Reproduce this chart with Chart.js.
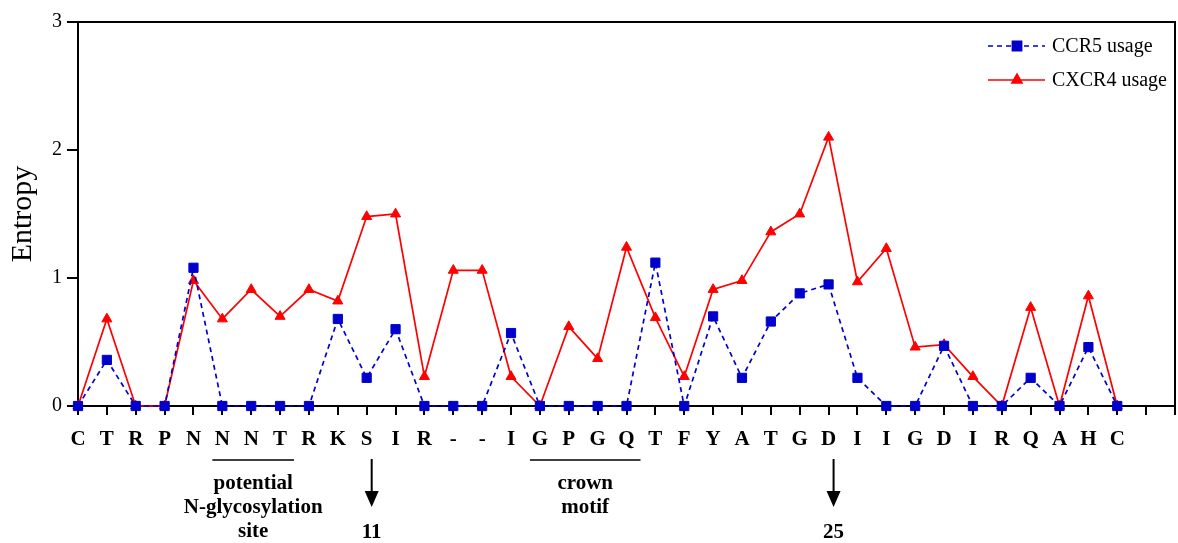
<!DOCTYPE html>
<html><head><meta charset="utf-8">
<script src="https://cdn.jsdelivr.net/npm/chart.js@4.4.0/dist/chart.umd.min.js"></script>
<style>html,body{margin:0;padding:0;background:#fff}#wrap{width:1178px;height:543px;position:relative}</style>
</head><body><div id="wrap"><canvas id="c" width="1178" height="543"></canvas></div>
<script>
const residues = ['C','T','R','P','N','N','N','T','R','K','S','I','R','-','-','I','G','P','G','Q','T','F','Y','A','T','G','D','I','I','G','D','I','R','Q','A','H','C','',''];
const ccr5Label = 'CCR5 usage';
const cxcr4Label = 'CXCR4 usage';
const ccr5 = [0,0.36,0,0,1.08,0,0,0,0,0.68,0.22,0.60,0,0,0,0.57,0,0,0,0,1.12,0,0.70,0.22,0.66,0.88,0.95,0.22,0,0,0.47,0,0,0.22,0,0.46,0];
const cxcr4 = [0,0.68,0,0,0.98,0.68,0.91,0.70,0.91,0.82,1.48,1.50,0.23,1.06,1.06,0.23,0,0.62,0.37,1.24,0.69,0.23,0.91,0.98,1.36,1.50,2.10,0.97,1.23,0.46,0.48,0.23,0,0.77,0,0.86,0];
const yTicks = [0,1,2,3];
const regions = [
  {from:5, to:7, lines:['potential','N-glycosylation','site']},
  {from:16, to:19, lines:['crown','motif']}
];
const arrows = [{at:10, text:'11'},{at:26, text:'25'}];

Chart.defaults.font.family = '"Liberation Serif", "Times New Roman", serif';
Chart.defaults.color = '#000';

const annot = {
  id:'annot',
  afterDraw(chart){
    const ctx = chart.ctx, a = chart.chartArea, x = chart.scales.x;
    ctx.save();
    ctx.strokeStyle = '#000'; ctx.lineWidth = 2;
    ctx.beginPath();
    ctx.moveTo(a.left, a.top); ctx.lineTo(a.right, a.top); ctx.lineTo(a.right, a.bottom);
    ctx.stroke();
    // legend
    const ds = chart.data.datasets;
    const legY = [46, 80];
    [0,1].forEach(i => {
      const d = ds[i], y = legY[i];
      ctx.strokeStyle = d.borderColor; ctx.lineWidth = 1.6;
      ctx.setLineDash(d.borderDash || []);
      ctx.beginPath(); ctx.moveTo(988, y); ctx.lineTo(1045, y); ctx.stroke();
      ctx.setLineDash([]);
      ctx.fillStyle = d.borderColor;
      Chart.helpers.drawPoint(ctx, {pointStyle:d.pointStyle, radius:d.pointRadius, borderWidth:1}, 1017, y);
      ctx.fill();
      ctx.fillStyle = '#000';
      ctx.font = '20px "Liberation Serif"';
      ctx.textAlign = 'left'; ctx.textBaseline = 'middle';
      ctx.fillText(d.label, 1052, y + 1);
    });
    // regions
    ctx.font = 'bold 21px "Liberation Serif"';
    ctx.textAlign = 'center'; ctx.textBaseline = 'middle';
    ctx.strokeStyle = '#000'; ctx.lineWidth = 1.5;
    regions.forEach(r => {
      const x1 = x.getPixelForValue(r.from) - 10, x2 = x.getPixelForValue(r.to) + 14;
      ctx.beginPath(); ctx.moveTo(x1, 460); ctx.lineTo(x2, 460); ctx.stroke();
      const cx = (x1 + x2) / 2;
      r.lines.forEach((t, k) => ctx.fillText(t, cx, 484 + k * 24));
    });
    arrows.forEach(ar => {
      const px = x.getPixelForValue(ar.at) + 5;
      ctx.lineWidth = 2;
      ctx.beginPath(); ctx.moveTo(px, 459); ctx.lineTo(px, 494); ctx.stroke();
      ctx.fillStyle = '#000';
      ctx.beginPath(); ctx.moveTo(px - 7, 491); ctx.lineTo(px + 7, 491); ctx.lineTo(px, 507); ctx.closePath(); ctx.fill();
      ctx.fillText(ar.text, px, 533);
    });
    ctx.restore();
  }
};

new Chart(document.getElementById('c'), {
  type:'line',
  data:{
    labels: residues,
    datasets:[
      {label:ccr5Label, data:ccr5, borderColor:'#0000CC', backgroundColor:'#0000CC', borderDash:[5,4], borderWidth:1.7,
       pointStyle:'rect', pointRadius:6.5, pointBorderWidth:1, tension:0, clip:false},
      {label:cxcr4Label, data:cxcr4, borderColor:'#FF0000', backgroundColor:'#FF0000', borderWidth:1.7,
       pointStyle:'triangle', pointRadius:5.8, pointBorderWidth:1, tension:0, clip:false}
    ]
  },
  options:{
    responsive:false, animation:false, devicePixelRatio:1,
    layout:{autoPadding:false, padding:{top:22, right:3, left:0, bottom:0}},
    plugins:{legend:{display:false}, tooltip:{enabled:false}},
    scales:{
      x:{
        type:'category', offset:false,
        grid:{display:true, drawOnChartArea:false, drawTicks:true, tickLength:9, color:'#000', lineWidth:2},
        border:{display:true, color:'#000', width:2},
        ticks:{autoSkip:false, maxRotation:0, minRotation:0, padding:12, font:{size:21, weight:'bold'}, color:'#000'},
        afterFit(s){ s.height = 137; s.paddingLeft = 0; s.paddingRight = 0; }
      },
      y:{
        min:0, max:3,
        afterBuildTicks(s){ s.ticks = yTicks.map(v => ({value:v})); },
        grid:{display:true, drawOnChartArea:false, drawTicks:true, tickLength:11, color:'#000', lineWidth:2},
        border:{display:true, color:'#000', width:2},
        ticks:{padding:5, font:{size:20}, color:'#000'},
        title:{display:true, text:'Entropy', font:{size:30}, padding:{top:5, bottom:0}, color:'#000'},
        afterFit(s){ s.width = 78; s.paddingTop = 0; s.paddingBottom = 0; }
      }
    }
  },
  plugins:[annot]
});
</script>
</body></html>
